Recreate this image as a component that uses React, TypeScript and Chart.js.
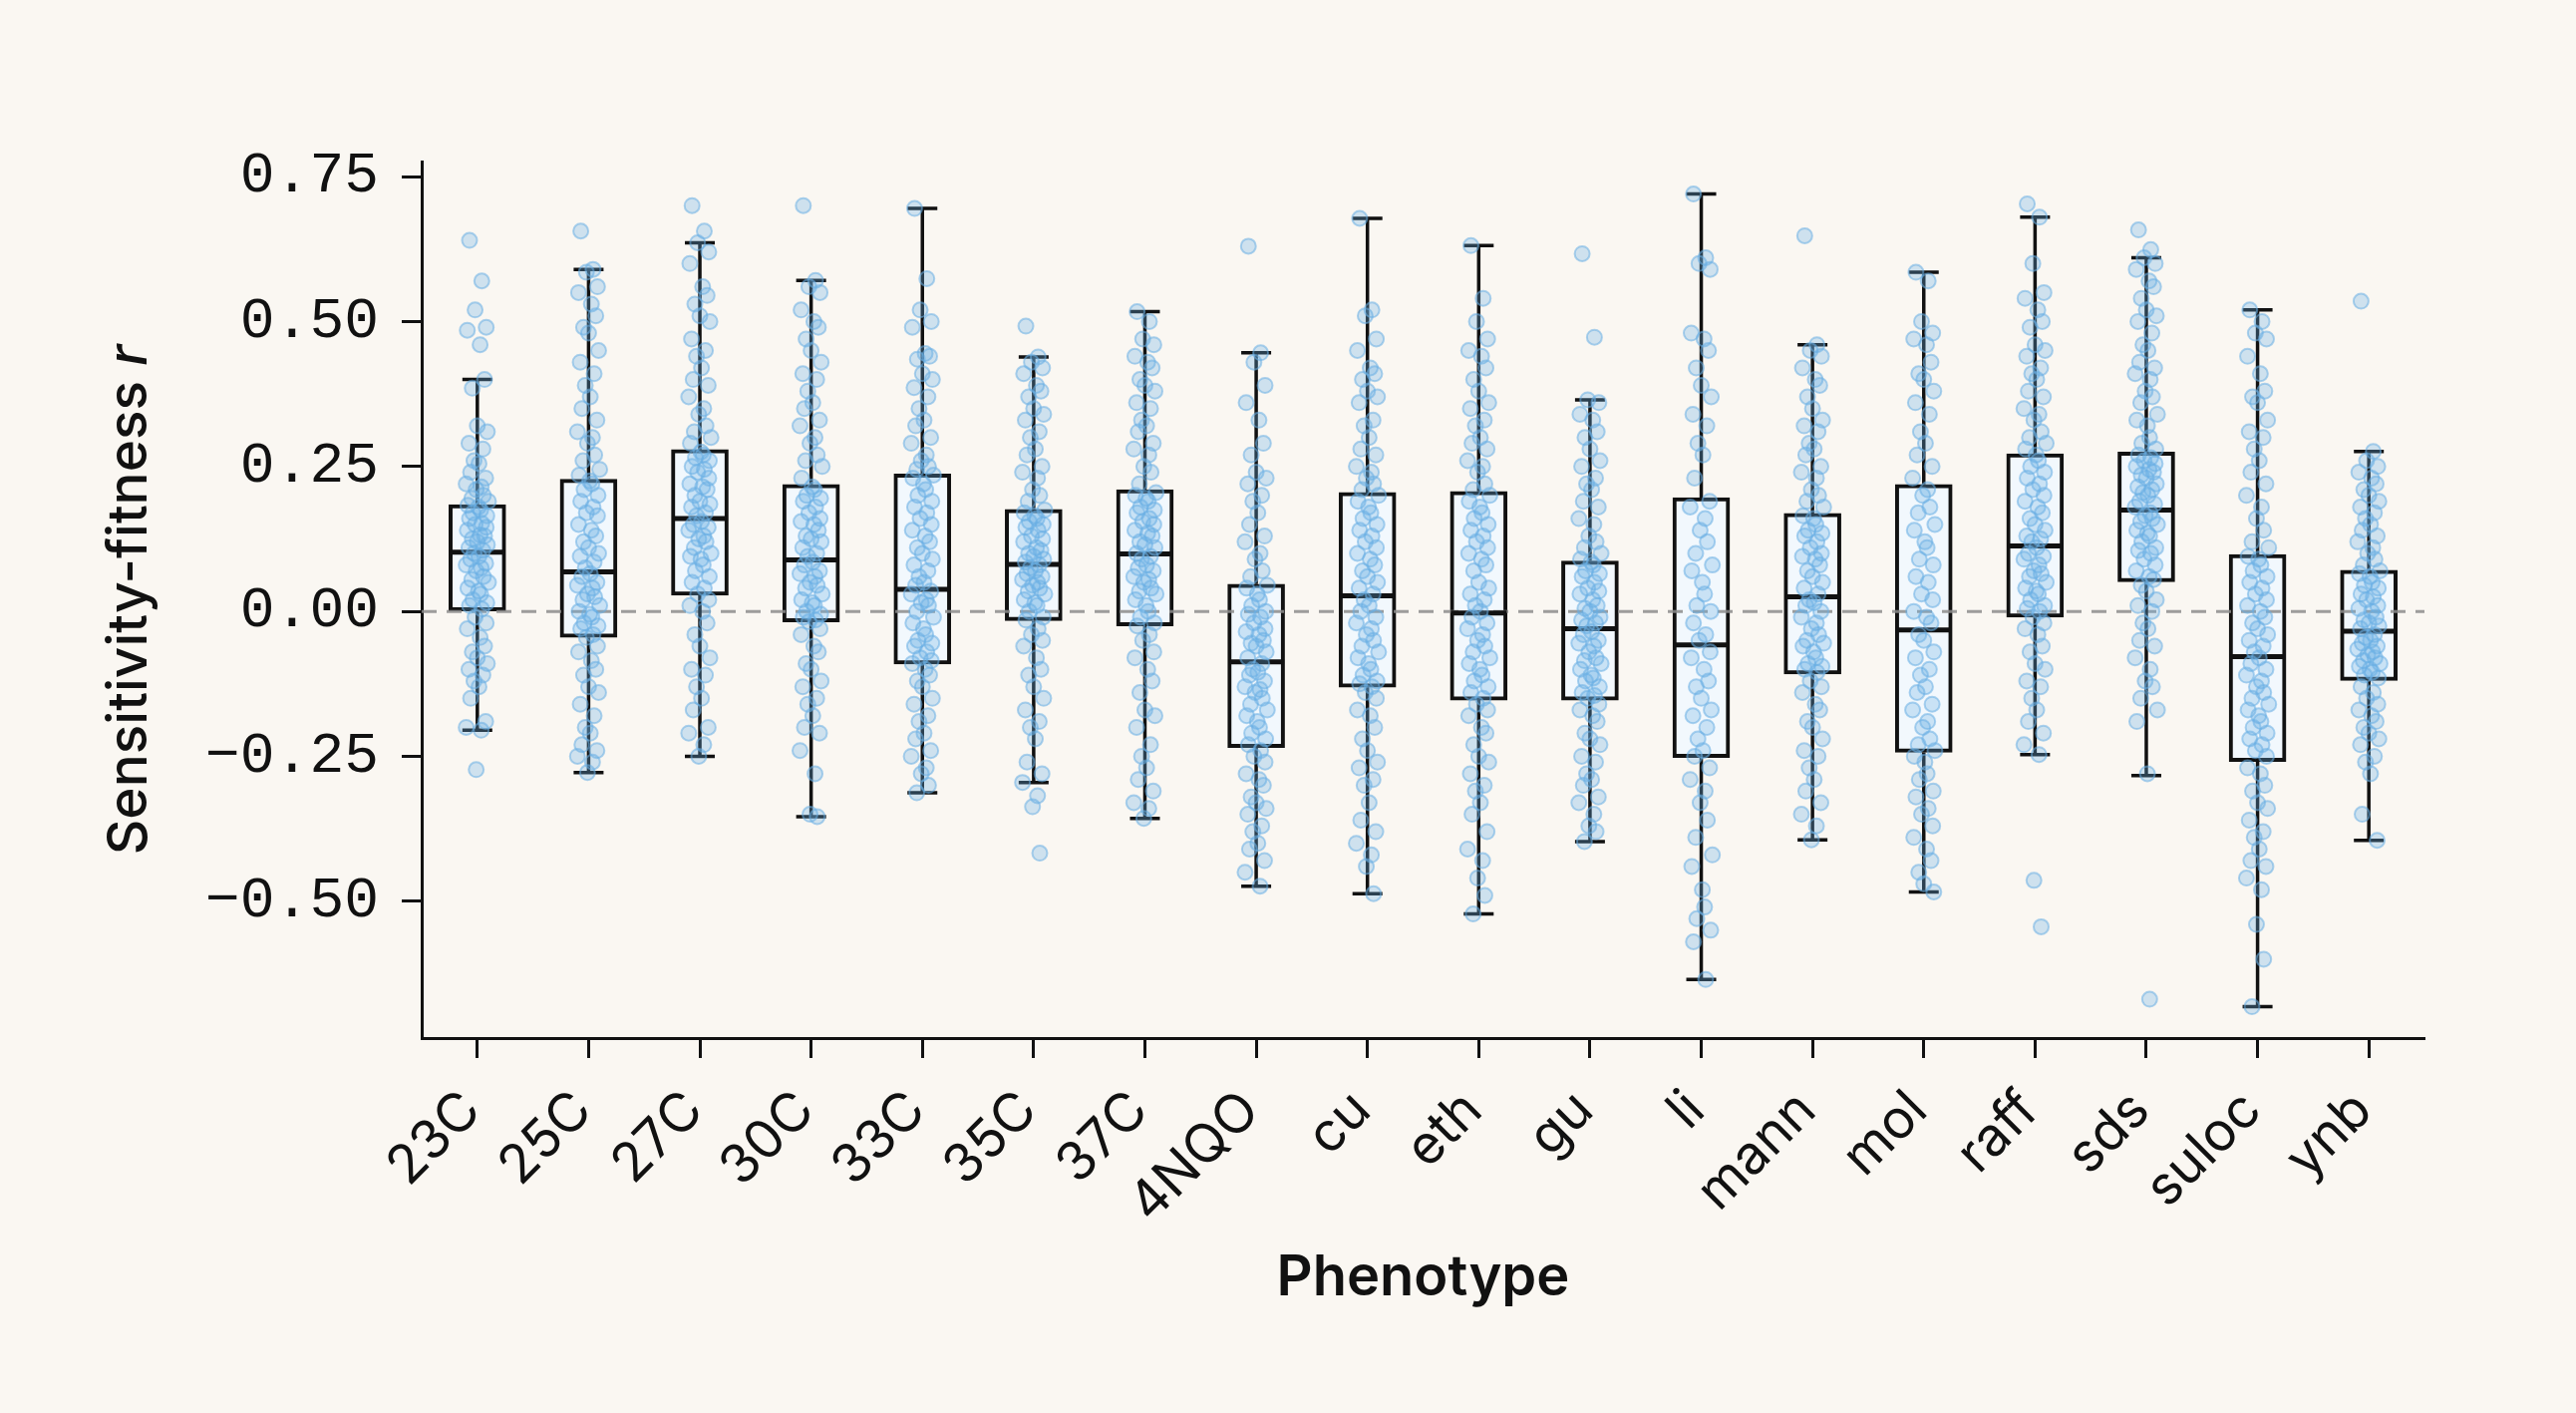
import { useEffect, useRef } from "react";
import { Chart, registerables, ChartConfiguration, Plugin } from "chart.js";

Chart.register(...registerables);

const CATEGORIES = ["23C", "25C", "27C", "30C", "33C", "35C", "37C", "4NQO", "cu", "eth", "gu", "li", "mann", "mol", "raff", "sds", "suloc", "ynb"];

// box statistics
const WHISKER_LOW = [-0.205, -0.278, -0.25, -0.354, -0.313, -0.295, -0.357, -0.474, -0.487, -0.522, -0.397, -0.635, -0.394, -0.484, -0.247, -0.283, -0.682, -0.395];
const Q1 = [0.0, -0.045, 0.028, -0.018, -0.091, -0.016, -0.025, -0.235, -0.131, -0.153, -0.153, -0.252, -0.108, -0.243, -0.01, 0.051, -0.259, -0.119];
const MEDIAN = [0.102, 0.068, 0.16, 0.089, 0.038, 0.081, 0.099, -0.087, 0.027, -0.003, -0.03, -0.058, 0.025, -0.032, 0.113, 0.175, -0.078, -0.034];
const Q3 = [0.184, 0.228, 0.279, 0.219, 0.237, 0.176, 0.21, 0.047, 0.205, 0.207, 0.087, 0.196, 0.169, 0.219, 0.272, 0.275, 0.098, 0.071];
const WHISKER_HIGH = [0.40, 0.59, 0.636, 0.571, 0.695, 0.439, 0.517, 0.446, 0.678, 0.631, 0.365, 0.72, 0.46, 0.585, 0.68, 0.61, 0.52, 0.276];

// individual strains (approximate)
const P_23C = [0.64, 0.57, 0.52, 0.49, 0.485, 0.46, 0.40, 0.385, 0.32, 0.31, 0.29, 0.28, 0.26, 0.255, 0.24, 0.23, 0.22, 0.215, 0.21, 0.20, 0.195, 0.19,
  0.183, 0.18, 0.175, 0.17, 0.165, 0.16, 0.152, 0.15, 0.145, 0.14, 0.132, 0.13, 0.125, 0.12, 0.115, 0.11, 0.105,
  0.10, 0.095, 0.09, 0.083, 0.08, 0.075, 0.07, 0.06, 0.055, 0.05, 0.04, 0.035, 0.03, 0.02, 0.015, 0.01, 0.004,
  -0.01, -0.02, -0.03, -0.045, -0.06, -0.07, -0.08, -0.09, -0.10, -0.11, -0.12, -0.13, -0.15, -0.19, -0.20, -0.205, -0.273];
const P_25C = [0.656, 0.59, 0.585, 0.56, 0.55, 0.53, 0.51, 0.49, 0.48, 0.45, 0.43, 0.41, 0.39, 0.37, 0.35, 0.33, 0.31, 0.30, 0.29, 0.27, 0.26, 0.245, 0.235,
  0.225, 0.22, 0.21, 0.20, 0.19, 0.18, 0.17, 0.165, 0.15, 0.14, 0.13, 0.12, 0.11, 0.10, 0.095, 0.085, 0.075,
  0.065, 0.06, 0.05, 0.045, 0.04, 0.03, 0.025, 0.02, 0.01, 0.0, -0.005, -0.01, -0.02, -0.025, -0.03, -0.04, -0.045,
  -0.06, -0.07, -0.085, -0.10, -0.11, -0.13, -0.14, -0.16, -0.18, -0.20, -0.21, -0.23, -0.24, -0.25, -0.26, -0.278];
const P_27C = [0.70, 0.656, 0.636, 0.62, 0.60, 0.56, 0.545, 0.53, 0.51, 0.50, 0.47, 0.45, 0.44, 0.42, 0.40, 0.39, 0.37, 0.35, 0.34, 0.32, 0.31, 0.30, 0.29,
  0.275, 0.27, 0.265, 0.26, 0.25, 0.245, 0.24, 0.23, 0.22, 0.215, 0.21, 0.20, 0.19, 0.185, 0.18, 0.17, 0.165,
  0.155, 0.15, 0.145, 0.14, 0.13, 0.125, 0.12, 0.11, 0.10, 0.095, 0.09, 0.08, 0.07, 0.06, 0.05, 0.04, 0.03,
  0.02, 0.01, 0.0, -0.02, -0.04, -0.06, -0.08, -0.10, -0.11, -0.13, -0.15, -0.17, -0.20, -0.21, -0.23, -0.25];
const P_30C = [0.70, 0.571, 0.56, 0.55, 0.52, 0.50, 0.49, 0.47, 0.45, 0.43, 0.41, 0.40, 0.38, 0.36, 0.35, 0.33, 0.32, 0.30, 0.29, 0.27, 0.26, 0.25, 0.23,
  0.215, 0.21, 0.20, 0.195, 0.19, 0.18, 0.17, 0.16, 0.155, 0.15, 0.14, 0.13, 0.125, 0.12, 0.11, 0.10, 0.095,
  0.085, 0.08, 0.07, 0.065, 0.06, 0.05, 0.045, 0.04, 0.03, 0.02, 0.015, 0.01, 0.0, -0.005, -0.01, -0.015, -0.018,
  -0.03, -0.04, -0.06, -0.07, -0.09, -0.10, -0.12, -0.13, -0.15, -0.16, -0.18, -0.20, -0.21, -0.24, -0.28, -0.35, -0.354];
const P_33C = [0.695, 0.574, 0.52, 0.50, 0.49, 0.445, 0.44, 0.435, 0.41, 0.40, 0.386, 0.37, 0.35, 0.33, 0.32, 0.30, 0.29, 0.27, 0.26, 0.25, 0.245,
  0.235, 0.23, 0.22, 0.21, 0.20, 0.19, 0.18, 0.17, 0.16, 0.15, 0.14, 0.13, 0.12, 0.11, 0.10, 0.09, 0.08, 0.07, 0.06, 0.05, 0.045,
  0.035, 0.03, 0.02, 0.015, 0.01, 0.0, -0.01, -0.02, -0.03, -0.04, -0.05, -0.055, -0.06, -0.07, -0.08, -0.085, -0.09,
  -0.10, -0.11, -0.12, -0.13, -0.15, -0.16, -0.18, -0.19, -0.21, -0.22, -0.24, -0.25, -0.27, -0.28, -0.30, -0.313];
const P_35C = [0.492, 0.439, 0.43, 0.42, 0.41, 0.39, 0.38, 0.37, 0.35, 0.34, 0.33, 0.31, 0.30, 0.28, 0.27, 0.25, 0.24, 0.23, 0.21, 0.20, 0.19,
  0.175, 0.17, 0.165, 0.16, 0.155, 0.15, 0.145, 0.14, 0.13, 0.125, 0.12, 0.11, 0.105, 0.10, 0.095, 0.09, 0.085,
  0.08, 0.075, 0.07, 0.065, 0.06, 0.055, 0.05, 0.045, 0.04, 0.035, 0.03, 0.02, 0.015, 0.01, 0.0, -0.01, -0.015,
  -0.03, -0.04, -0.05, -0.06, -0.08, -0.10, -0.11, -0.13, -0.15, -0.17, -0.19, -0.20, -0.22, -0.26, -0.28, -0.295, -0.318, -0.337, -0.417];
const P_37C = [0.517, 0.50, 0.47, 0.46, 0.44, 0.43, 0.42, 0.40, 0.39, 0.38, 0.36, 0.35, 0.33, 0.32, 0.31, 0.29, 0.28, 0.27, 0.25, 0.24, 0.22,
  0.205, 0.20, 0.195, 0.19, 0.18, 0.175, 0.17, 0.16, 0.155, 0.15, 0.14, 0.135, 0.13, 0.12, 0.115, 0.11, 0.10,
  0.095, 0.09, 0.08, 0.075, 0.07, 0.06, 0.055, 0.05, 0.04, 0.035, 0.03, 0.02, 0.01, 0.0, -0.01, -0.02, -0.025,
  -0.04, -0.05, -0.07, -0.08, -0.10, -0.12, -0.14, -0.17, -0.18, -0.20, -0.23, -0.25, -0.27, -0.29, -0.31, -0.33, -0.34, -0.357];
const P_4NQO = [0.63, 0.446, 0.43, 0.39, 0.36, 0.33, 0.29, 0.27, 0.24, 0.23, 0.22, 0.20, 0.19, 0.17, 0.15, 0.13, 0.12, 0.10, 0.09, 0.07, 0.06,
  0.045, 0.04, 0.03, 0.02, 0.01, 0.0, -0.005, -0.01, -0.02, -0.03, -0.035, -0.04, -0.05, -0.055, -0.06, -0.07, -0.08,
  -0.09, -0.10, -0.105, -0.11, -0.12, -0.13, -0.135, -0.14, -0.15, -0.16, -0.17, -0.18, -0.19, -0.20, -0.21, -0.22, -0.23,
  -0.24, -0.25, -0.26, -0.28, -0.29, -0.30, -0.32, -0.33, -0.34, -0.35, -0.37, -0.38, -0.40, -0.41, -0.43, -0.45, -0.474];
const P_CU = [0.678, 0.52, 0.51, 0.47, 0.45, 0.42, 0.41, 0.40, 0.38, 0.37, 0.36, 0.33, 0.32, 0.30, 0.28, 0.27, 0.25, 0.24, 0.23, 0.22, 0.21,
  0.20, 0.19, 0.18, 0.17, 0.16, 0.15, 0.14, 0.13, 0.12, 0.11, 0.10, 0.09, 0.08, 0.07, 0.06, 0.05, 0.04, 0.03,
  0.02, 0.01, 0.0, -0.01, -0.02, -0.03, -0.04, -0.05, -0.06, -0.07, -0.08, -0.09, -0.10, -0.11, -0.12, -0.125, -0.13,
  -0.14, -0.15, -0.17, -0.18, -0.20, -0.22, -0.24, -0.26, -0.27, -0.29, -0.30, -0.33, -0.36, -0.38, -0.40, -0.42, -0.44, -0.487];
const P_ETH = [0.631, 0.54, 0.50, 0.47, 0.45, 0.44, 0.42, 0.40, 0.38, 0.36, 0.35, 0.33, 0.32, 0.30, 0.29, 0.28, 0.26, 0.25, 0.24, 0.22, 0.21,
  0.20, 0.19, 0.18, 0.17, 0.16, 0.15, 0.14, 0.13, 0.12, 0.11, 0.10, 0.09, 0.08, 0.07, 0.05, 0.04, 0.03, 0.02, 0.01, 0.0,
  -0.01, -0.02, -0.03, -0.04, -0.05, -0.06, -0.07, -0.08, -0.09, -0.10, -0.11, -0.12, -0.13, -0.14, -0.15,
  -0.16, -0.17, -0.18, -0.20, -0.21, -0.23, -0.25, -0.26, -0.28, -0.30, -0.31, -0.33, -0.35, -0.38, -0.41, -0.43, -0.46, -0.49, -0.522];
const P_GU = [0.617, 0.473, 0.365, 0.36, 0.34, 0.33, 0.31, 0.30, 0.28, 0.26, 0.25, 0.23, 0.22, 0.21, 0.19, 0.18, 0.16, 0.15, 0.13, 0.12, 0.11, 0.10, 0.09,
  0.085, 0.08, 0.07, 0.065, 0.06, 0.05, 0.04, 0.035, 0.03, 0.02, 0.01, 0.005, 0.0, -0.01, -0.015, -0.02, -0.025,
  -0.035, -0.04, -0.05, -0.055, -0.06, -0.07, -0.08, -0.085, -0.09, -0.10, -0.11, -0.115, -0.12, -0.13, -0.14, -0.145, -0.15,
  -0.16, -0.17, -0.18, -0.19, -0.21, -0.22, -0.23, -0.25, -0.26, -0.28, -0.29, -0.30, -0.32, -0.33, -0.35, -0.37, -0.38, -0.397];
const P_LI = [0.72, 0.61, 0.60, 0.59, 0.48, 0.47, 0.45, 0.42, 0.39, 0.37, 0.34, 0.32, 0.29, 0.27, 0.23,
  0.19, 0.18, 0.16, 0.14, 0.12, 0.10, 0.08, 0.07, 0.05, 0.03, 0.01, 0.0, -0.02, -0.04, -0.05,
  -0.07, -0.08, -0.10, -0.12, -0.13, -0.15, -0.17, -0.18, -0.20, -0.22, -0.24, -0.25,
  -0.27, -0.29, -0.31, -0.33, -0.36, -0.39, -0.42, -0.44, -0.48, -0.51, -0.53, -0.55, -0.57, -0.635];
const P_MANN = [0.648, 0.46, 0.45, 0.44, 0.42, 0.40, 0.39, 0.37, 0.35, 0.33, 0.32, 0.31, 0.29, 0.28, 0.27, 0.25, 0.24, 0.23, 0.21, 0.20, 0.19, 0.18,
  0.165, 0.16, 0.15, 0.14, 0.135, 0.13, 0.12, 0.11, 0.10, 0.095, 0.09, 0.08, 0.07, 0.06, 0.05, 0.04, 0.03,
  0.02, 0.015, 0.01, 0.0, -0.01, -0.02, -0.03, -0.04, -0.05, -0.055, -0.06, -0.07, -0.08, -0.09, -0.095, -0.10, -0.105,
  -0.12, -0.13, -0.14, -0.16, -0.17, -0.19, -0.20, -0.22, -0.24, -0.25, -0.27, -0.29, -0.31, -0.33, -0.35, -0.37, -0.394];
const P_MOL = [0.585, 0.57, 0.50, 0.48, 0.47, 0.46, 0.43, 0.41, 0.40, 0.38, 0.36, 0.34, 0.31, 0.29, 0.27, 0.25, 0.23,
  0.21, 0.20, 0.18, 0.17, 0.15, 0.14, 0.12, 0.11, 0.09, 0.08, 0.06, 0.05, 0.03, 0.02, 0.0, -0.01, -0.02,
  -0.04, -0.05, -0.07, -0.08, -0.10, -0.11, -0.13, -0.14, -0.16, -0.17, -0.19, -0.20, -0.22, -0.23, -0.24,
  -0.25, -0.26, -0.28, -0.29, -0.31, -0.32, -0.34, -0.35, -0.37, -0.39, -0.41, -0.43, -0.45, -0.47, -0.484];
const P_RAFF = [0.703, 0.68, 0.60, 0.55, 0.54, 0.52, 0.50, 0.49, 0.46, 0.45, 0.44, 0.42, 0.41, 0.40, 0.38, 0.37, 0.35, 0.34, 0.33, 0.31, 0.30, 0.29, 0.28,
  0.27, 0.26, 0.25, 0.24, 0.23, 0.22, 0.21, 0.20, 0.19, 0.18, 0.17, 0.16, 0.15, 0.14, 0.13, 0.125, 0.12,
  0.11, 0.10, 0.095, 0.09, 0.08, 0.07, 0.065, 0.06, 0.05, 0.04, 0.035, 0.03, 0.02, 0.01, 0.005, 0.0, -0.01,
  -0.02, -0.03, -0.04, -0.06, -0.07, -0.09, -0.10, -0.12, -0.13, -0.15, -0.17, -0.19, -0.21, -0.23, -0.247, -0.464, -0.544];
const P_SDS = [0.658, 0.624, 0.61, 0.60, 0.59, 0.57, 0.56, 0.54, 0.52, 0.51, 0.50, 0.48, 0.46, 0.45, 0.43, 0.42, 0.41, 0.40, 0.38, 0.37, 0.36, 0.34, 0.33, 0.32, 0.30, 0.29, 0.28,
  0.27, 0.265, 0.26, 0.255, 0.25, 0.245, 0.24, 0.235, 0.23, 0.22, 0.215, 0.21, 0.205, 0.20, 0.19, 0.185, 0.18,
  0.17, 0.165, 0.16, 0.155, 0.15, 0.14, 0.135, 0.13, 0.12, 0.11, 0.105, 0.10, 0.09, 0.08, 0.07, 0.06, 0.055,
  0.045, 0.035, 0.02, 0.01, 0.0, -0.02, -0.03, -0.05, -0.06, -0.08, -0.10, -0.12, -0.13, -0.15, -0.17, -0.19, -0.28, -0.669];
const P_SULOC = [0.52, 0.50, 0.48, 0.47, 0.44, 0.41, 0.38, 0.37, 0.36, 0.33, 0.31, 0.30, 0.28, 0.26, 0.24, 0.22, 0.20, 0.18, 0.16, 0.14, 0.12, 0.11,
  0.095, 0.09, 0.08, 0.07, 0.06, 0.05, 0.04, 0.03, 0.02, 0.01, 0.0, -0.01, -0.02, -0.03, -0.04, -0.05, -0.06, -0.07,
  -0.08, -0.09, -0.10, -0.11, -0.12, -0.13, -0.14, -0.15, -0.16, -0.17, -0.18, -0.19, -0.20, -0.21, -0.22, -0.23, -0.24, -0.25,
  -0.27, -0.28, -0.30, -0.31, -0.33, -0.34, -0.36, -0.38, -0.39, -0.41, -0.43, -0.44, -0.46, -0.48, -0.54, -0.60, -0.682];
const P_YNB = [0.535, 0.276, 0.26, 0.25, 0.24, 0.23, 0.22, 0.21, 0.20, 0.19, 0.18, 0.17, 0.16, 0.15, 0.14, 0.13, 0.12, 0.11, 0.10, 0.09, 0.08,
  0.07, 0.065, 0.06, 0.05, 0.045, 0.04, 0.03, 0.025, 0.02, 0.01, 0.005, 0.0, -0.01, -0.015, -0.02, -0.025, -0.03,
  -0.04, -0.045, -0.05, -0.055, -0.06, -0.065, -0.07, -0.075, -0.08, -0.085, -0.09, -0.095, -0.10, -0.105, -0.11, -0.115,
  -0.13, -0.14, -0.15, -0.16, -0.17, -0.18, -0.19, -0.20, -0.21, -0.22, -0.23, -0.25, -0.26, -0.28, -0.35, -0.395];

const STRIP_POINTS = [P_23C, P_25C, P_27C, P_30C, P_33C, P_35C, P_37C, P_4NQO, P_CU, P_ETH, P_GU, P_LI, P_MANN, P_MOL, P_RAFF, P_SDS, P_SULOC, P_YNB];

// horizontal jitter in category units, cycled over the points
const JITTER = [-0.07, 0.04, -0.02, 0.08, -0.09, 0.025, 0.065, -0.045, 0.0, 0.09, -0.075, 0.05, -0.03, 0.015, -0.06, 0.075, -0.1, 0.035, -0.01, 0.055, -0.05, 0.1, -0.085, 0.01, 0.03, -0.04, 0.085];

const Y_MIN = -0.736;
const Y_MAX = 0.776;

const BG = "#FAF7F2";
const INK = "#111111";

const boxExtras: Plugin<"bar"> = {
  id: "boxExtras",
  beforeDraw(chart) {
    const { ctx, width, height } = chart;
    ctx.save();
    ctx.fillStyle = BG;
    ctx.fillRect(0, 0, width, height);
    ctx.restore();
  },
  // drawn between the boxes and the strip points, so the points sit on top
  beforeDatasetDraw(chart, args: any) {
    if (args.index !== 1) return;
    const { ctx, chartArea } = chart;
    const x = chart.scales.x;
    const y = chart.scales.y;
    ctx.save();

    const y0 = y.getPixelForValue(0);
    ctx.strokeStyle = "rgba(140,140,140,0.85)";
    ctx.lineWidth = 3;
    ctx.setLineDash([15, 10]);
    ctx.beginPath();
    ctx.moveTo(chartArea.left, y0);
    ctx.lineTo(chartArea.right, y0);
    ctx.stroke();
    ctx.setLineDash([]);

    ctx.strokeStyle = INK;
    ctx.lineCap = "butt";
    CATEGORIES.forEach((_, i) => {
      const cx = x.getPixelForValue(i);
      ctx.lineWidth = 3.5;
      ctx.beginPath();
      ctx.moveTo(cx, y.getPixelForValue(Q3[i]));
      ctx.lineTo(cx, y.getPixelForValue(WHISKER_HIGH[i]));
      ctx.moveTo(cx, y.getPixelForValue(Q1[i]));
      ctx.lineTo(cx, y.getPixelForValue(WHISKER_LOW[i]));
      ctx.moveTo(cx - 15, y.getPixelForValue(WHISKER_HIGH[i]));
      ctx.lineTo(cx + 15, y.getPixelForValue(WHISKER_HIGH[i]));
      ctx.moveTo(cx - 15, y.getPixelForValue(WHISKER_LOW[i]));
      ctx.lineTo(cx + 15, y.getPixelForValue(WHISKER_LOW[i]));
      ctx.stroke();
      ctx.lineWidth = 5;
      ctx.beginPath();
      ctx.moveTo(cx - 28, y.getPixelForValue(MEDIAN[i]));
      ctx.lineTo(cx + 28, y.getPixelForValue(MEDIAN[i]));
      ctx.stroke();
    });
    ctx.restore();
  },
  afterDatasetsDraw(chart) {
    const { ctx, chartArea } = chart;
    const x = chart.scales.x;
    ctx.save();

    // rotated category labels under the x ticks
    ctx.fillStyle = INK;
    ctx.font = "400 54px Inter";
    ctx.textAlign = "right";
    ctx.textBaseline = "alphabetic";
    CATEGORIES.forEach((label, i) => {
      ctx.save();
      ctx.translate(x.getPixelForValue(i) + 6, chartArea.bottom + 75);
      ctx.rotate(-Math.PI / 4);
      ctx.fillText(label, 0, 0);
      ctx.restore();
    });

    // axis titles
    ctx.textBaseline = "middle";
    ctx.textAlign = "center";
    ctx.font = "600 56px Inter";
    ctx.fillText("Phenotype", (chartArea.left + chartArea.right) / 2, 1282);

    ctx.save();
    ctx.translate(130, (chartArea.top + chartArea.bottom) / 2);
    ctx.rotate(-Math.PI / 2);
    const main = "Sensitivity-fitness ";
    ctx.font = "500 55px Inter";
    const w1 = ctx.measureText(main).width;
    ctx.font = "italic 500 55px Inter";
    const w2 = ctx.measureText("r").width;
    const start = -(w1 + w2) / 2;
    ctx.textAlign = "left";
    ctx.font = "500 55px Inter";
    ctx.fillText(main, start, 0);
    ctx.font = "italic 500 55px Inter";
    ctx.fillText("r", start + w1, 0);
    ctx.restore();

    ctx.restore();
  },
};

export default function App() {
  const canvasRef = useRef<HTMLCanvasElement>(null);
  const chartRef = useRef<Chart | null>(null);

  useEffect(() => {
    if (!canvasRef.current) return;
    document.body.style.margin = "0";
    document.body.style.background = BG;

    if (chartRef.current) {
      chartRef.current.destroy();
    }

    const boxData = CATEGORIES.map((_, i) => ({ x: i, y: [Q1[i], Q3[i]] }));
    const stripData: { x: number; y: number }[] = [];
    STRIP_POINTS.forEach((vals, i) => {
      vals.forEach((v, k) => {
        stripData.push({ x: i + JITTER[k % JITTER.length], y: v });
      });
    });

    const config: ChartConfiguration = {
      type: "bar",
      data: {
        datasets: [
          {
            type: "bar",
            label: "box",
            data: boxData as any,
            backgroundColor: "#F2F8FD",
            borderColor: INK,
            borderWidth: 4,
            borderSkipped: false,
            barThickness: 57,
            order: 2,
          },
          {
            type: "scatter",
            label: "strains",
            data: stripData,
            pointRadius: 7.5,
            pointHoverRadius: 7.5,
            pointBackgroundColor: "rgba(105,175,228,0.3)",
            pointBorderColor: "rgba(105,175,228,0.55)",
            pointBorderWidth: 2,
            order: 1,
          } as any,
        ],
      },
      options: {
        animation: false,
        responsive: true,
        maintainAspectRatio: false,
        devicePixelRatio: 1,
        layout: { padding: { top: 162, right: 152, left: 0, bottom: 0 } },
        plugins: {
          legend: { display: false },
          tooltip: { enabled: false },
        },
        scales: {
          x: {
            type: "linear",
            min: -0.5,
            max: 17.5,
            offset: false,
            afterFit: (scale: any) => {
              scale.height = 1417 - 1041;
            },
            border: { display: true, color: INK, width: 3 },
            grid: { display: true, drawOnChartArea: false, drawTicks: true, tickLength: 20, tickWidth: 3, tickColor: INK },
            ticks: {
              stepSize: 1,
              includeBounds: false,
              autoSkip: false,
              display: false,
            },
          },
          y: {
            type: "linear",
            min: Y_MIN,
            max: Y_MAX,
            afterFit: (scale: any) => {
              scale.width = 423;
            },
            border: { display: true, color: INK, width: 3 },
            grid: { display: true, drawOnChartArea: false, drawTicks: true, tickLength: 20, tickWidth: 3, tickColor: INK },
            ticks: {
              stepSize: 0.25,
              includeBounds: false,
              padding: 23,
              color: INK,
              font: { family: "'Liberation Mono', monospace", size: 58 },
              callback: (v: any) => {
                const n = Number(v);
                const s = Math.abs(n).toFixed(2);
                return n < -1e-9 ? "\u2212" + s : s;
              },
            },
          },
        },
      },
      plugins: [boxExtras as any],
    };

    chartRef.current = new Chart(canvasRef.current, config);

    return () => {
      if (chartRef.current) {
        chartRef.current.destroy();
        chartRef.current = null;
      }
    };
  }, []);

  return (
    <div style={{ position: "fixed", left: 0, top: 0, width: "100vw", height: "100vh", background: BG }}>
      <canvas ref={canvasRef} />
    </div>
  );
}
